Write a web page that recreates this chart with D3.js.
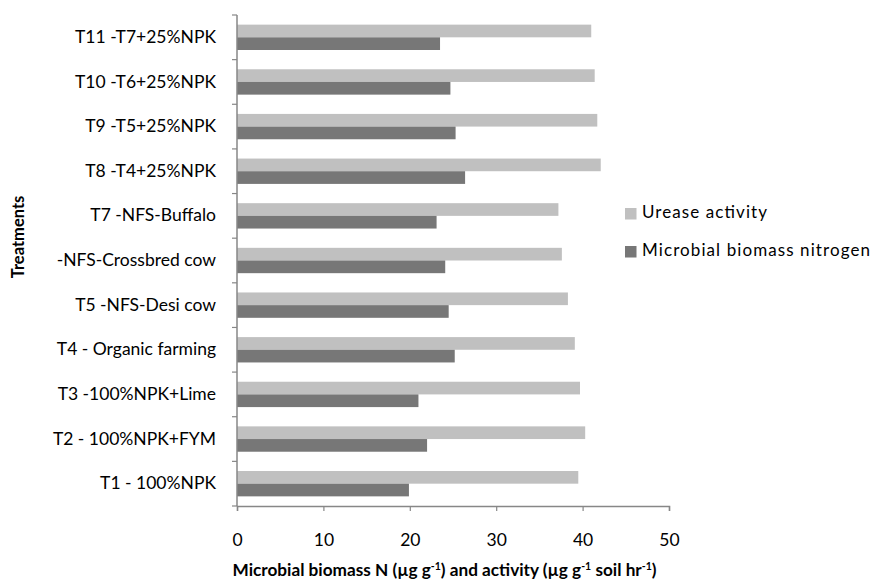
<!DOCTYPE html>
<html><head><meta charset="utf-8">
<script src="https://cdn.jsdelivr.net/npm/d3@7"></script>
<style>body{margin:0;background:#fff}svg{font-family:Lato,"Open Sans",sans-serif}</style>
</head><body>
<svg id="c" width="876" height="582"></svg>
<script>
const categories = ["T1 - 100%NPK","T2 - 100%NPK+FYM","T3 -100%NPK+Lime","T4 - Organic farming","T5 -NFS-Desi cow","-NFS-Crossbred cow","T7 -NFS-Buffalo","T8 -T4+25%NPK","T9 -T5+25%NPK","T10 -T6+25%NPK","T11 -T7+25%NPK"];
const urease = [39.5,40.3,39.7,39.1,38.3,37.6,37.2,42.1,41.7,41.4,41.0];
const microbialN = [19.9,22.0,21.0,25.2,24.5,24.1,23.1,26.4,25.3,24.7,23.5];
const seriesNames = ["Urease activity","Microbial biomass nitrogen"];
const xTicks = [0,10,20,30,40,50];

const svg = d3.select("#c");
const L = 237, R = 669, T = 15, B = 506;
const x = d3.scaleLinear().domain([0,50]).range([L,R]);
const y = d3.scaleBand().domain(categories.slice().reverse()).range([T,B]);
const axisCol = "#878787";
const cols = ["#c0c0c0","#777777"];

const bw = y.bandwidth();
const barH = bw*0.284, off = bw*0.216;
const g = svg.append("g");
categories.forEach((c,i)=>{
  const y0 = y(c) + off;
  g.append("rect").attr("x",x(0)).attr("y",y0).attr("width",x(urease[i])-x(0)).attr("height",barH).attr("fill",cols[0]);
  g.append("rect").attr("x",x(0)).attr("y",y0+barH).attr("width",x(microbialN[i])-x(0)).attr("height",barH).attr("fill",cols[1]);
});

// y axis
const ya = svg.append("g").attr("transform",`translate(${L},0)`)
  .call(d3.axisLeft(y).tickSize(0).tickPadding(21));
ya.select(".domain").remove();
ya.selectAll("text").attr("font-size",17.5).attr("fill","#000").style("font-family","Lato");
svg.append("line").attr("x1",L).attr("x2",L).attr("y1",T).attr("y2",B).attr("stroke",axisCol).attr("stroke-width",1.5);
d3.range(categories.length+1).forEach(k=>{
  const yy = T + k*(B-T)/categories.length;
  svg.append("line").attr("x1",L-5).attr("x2",L).attr("y1",yy).attr("y2",yy).attr("stroke",axisCol).attr("stroke-width",1.2);
});

// x axis
const xa = svg.append("g").attr("transform",`translate(0,${B})`)
  .call(d3.axisBottom(x).tickValues(xTicks).tickSize(5).tickPadding(23));
xa.select(".domain").attr("stroke",axisCol).attr("stroke-width",1.5);
xa.selectAll(".tick line").attr("stroke",axisCol).attr("stroke-width",1.2);
xa.selectAll("text").attr("font-size",17.5).attr("fill","#000").style("font-family","Lato");

// axis titles
svg.append("text").attr("transform",`translate(24,237) rotate(-90)`)
  .attr("text-anchor","middle").attr("font-size",16.5).attr("font-weight","bold").text("Treatments");

const xt = svg.append("text").attr("x",444.5).attr("y",575.5).attr("text-anchor","middle").attr("font-size",17.2).attr("font-weight","bold");
xt.append("tspan").text("Microbial biomass N (µg g");
xt.append("tspan").attr("dy",-6).attr("font-size",10.5).text("-1");
xt.append("tspan").attr("dy",6).text(") and activity (µg g");
xt.append("tspan").attr("dy",-6).attr("font-size",10.5).text("-1");
xt.append("tspan").attr("dy",6).text(" soil hr");
xt.append("tspan").attr("dy",-6).attr("font-size",10.5).text("-1");
xt.append("tspan").attr("dy",6).text(")");

// legend
const lg = svg.append("g");
const legW = [125, 228];
seriesNames.forEach((n,i)=>{
  const yy = 213.5 + i*38;
  lg.append("rect").attr("x",625).attr("y",yy-5.5).attr("width",11.5).attr("height",11.5).attr("fill",cols[i]);
  lg.append("text").attr("x",642).attr("y",yy).attr("dominant-baseline","middle").attr("font-size",17)
    .attr("textLength",legW[i]).attr("lengthAdjust","spacing").text(n);
});
</script>
</body></html>
